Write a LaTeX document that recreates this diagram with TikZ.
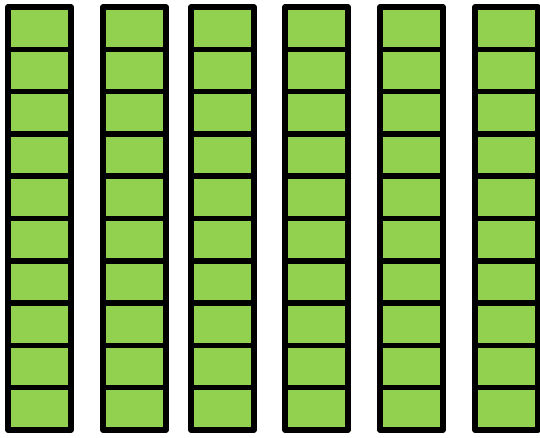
\documentclass[tikz,border=0pt]{standalone}
\usetikzlibrary{positioning}
\definecolor{cellg}{HTML}{92D050}

\begin{document}
\begin{tikzpicture}[
  x=1pt, y=-1pt,
  cell/.style={draw=black, fill=cellg, line width=5.5pt, line join=round,
    minimum width=63pt, minimum height=42.3pt, inner sep=0pt, outer sep=0pt,
    anchor=north west},
]
\useasboundingbox (0,0) rectangle (540,438);

% ---------------- columns of ten cells
\foreach \c/\x in {1/8, 2/103, 3/191, 4/285, 5/380, 6/475} {
  \node[cell] (c\c-1) at (\x,7) {};
  \foreach \r [remember=\r as \p (initially 1)] in {2,...,10}
    \node[cell, below=0pt of c\c-\p.south west, anchor=north west] (c\c-\r) {};
}

\end{tikzpicture}
\end{document}
